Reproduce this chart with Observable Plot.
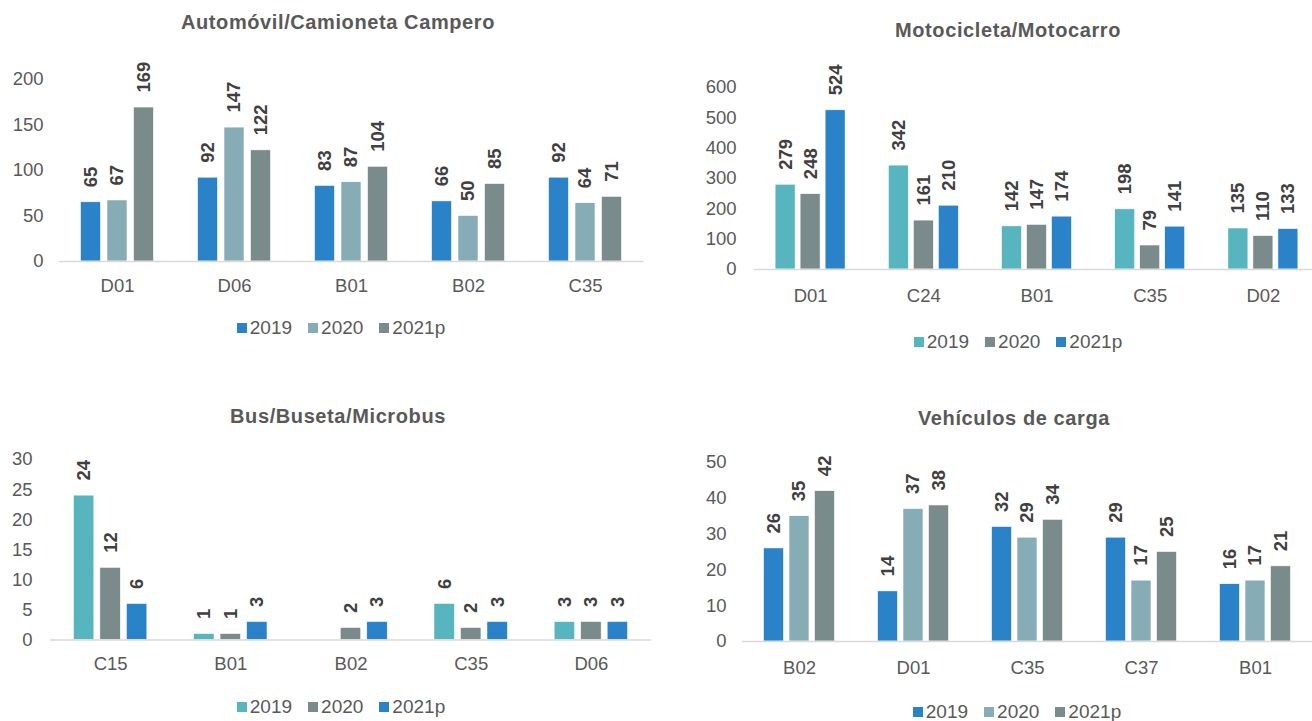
<!DOCTYPE html>
<html><head><meta charset="utf-8">
<script src="https://cdn.jsdelivr.net/npm/d3@7"></script>
<script src="https://cdn.jsdelivr.net/npm/@observablehq/plot@0.6"></script>
<style>
body{margin:0;background:#fff;}
#root{position:relative;width:1312px;height:721px;overflow:hidden;font-family:Arial,"Liberation Sans",sans-serif;background:#fff;}
.title{position:absolute;width:600px;text-align:center;font-weight:bold;font-size:20px;color:#595959;line-height:24px;letter-spacing:0.6px;}
.legend{position:absolute;width:600px;display:flex;justify-content:center;align-items:center;font-size:19px;color:#595959;line-height:16px;height:16px;}
.legend .item{display:flex;align-items:center;margin:0 8px;}
.legend .sw{width:10px;height:10px;margin-right:3px;}
.chart{position:absolute;}
</style></head><body><div id="root"></div>
<script>
const years = ["2019", "2020", "2021p"];

const autoTitle = "Automóvil/Camioneta Campero";
const autoCats = ["D01", "D06", "B01", "B02", "C35"];
const auto2019 = [65, 92, 83, 66, 92];
const auto2020 = [67, 147, 87, 50, 64];
const auto2021 = [169, 122, 104, 85, 71];
const autoTicks = [0, 50, 100, 150, 200];
const autoColors = ["#2A82C8", "#86ACB5", "#7A8B8C"];

const motoTitle = "Motocicleta/Motocarro";
const motoCats = ["D01", "C24", "B01", "C35", "D02"];
const moto2019 = [279, 342, 142, 198, 135];
const moto2020 = [248, 161, 147, 79, 110];
const moto2021 = [524, 210, 174, 141, 133];
const motoTicks = [0, 100, 200, 300, 400, 500, 600];
const motoColors = ["#57B5BF", "#7A8B8C", "#2A82C8"];

const busTitle = "Bus/Buseta/Microbus";
const busCats = ["C15", "B01", "B02", "C35", "D06"];
const bus2019 = [24, 1, null, 6, 3];
const bus2020 = [12, 1, 2, 2, 3];
const bus2021 = [6, 3, 3, 3, 3];
const busTicks = [0, 5, 10, 15, 20, 25, 30];
const busColors = ["#57B5BF", "#7A8B8C", "#2A82C8"];

const cargaTitle = "Vehículos de carga";
const cargaCats = ["B02", "D01", "C35", "C37", "B01"];
const carga2019 = [26, 14, 32, 29, 16];
const carga2020 = [35, 37, 29, 17, 17];
const carga2021 = [42, 38, 34, 25, 21];
const cargaTicks = [0, 10, 20, 30, 40, 50];
const cargaColors = ["#2A82C8", "#86ACB5", "#7A8B8C"];

const root = document.getElementById("root");
const FONT = "Arial, 'Liberation Sans', sans-serif";

function rowsOf(cats, s1, s2, s3) {
  const out = [];
  cats.forEach((c, i) => {
    [s1, s2, s3].forEach((s, j) => {
      if (s[i] != null) out.push({cat: c, year: years[j], value: s[i]});
    });
  });
  return out;
}

function panel(cfg) {
  const rows = rowsOf(cfg.cats, cfg.s1, cfg.s2, cfg.s3);
  const W = cfg.W, H = cfg.H;
  const mL = cfg.frameLeft - cfg.left;
  const mR = cfg.left + W - cfg.frameRight;
  const mT = cfg.yTop - cfg.top;
  const mB = cfg.top + H - cfg.y0;
  const plot = Plot.plot({
    width: W, height: H,
    marginLeft: mL, marginRight: mR, marginTop: mT, marginBottom: mB,
    style: {fontFamily: FONT, fontSize: "18.5px", color: "#595959", background: "transparent", overflow: "visible"},
    fx: {domain: cfg.cats, padding: 0, round: false, label: null},
    x: {domain: years, paddingInner: cfg.pi, paddingOuter: cfg.po, round: false, axis: null},
    y: {domain: [0, cfg.yMax], nice: false, label: null},
    color: {domain: years, range: cfg.colors},
    marks: [
      Plot.barY(rows, {fx: "cat", x: "year", y: "value", fill: "year", stroke: "#fff", strokeWidth: 0.6}),
      Plot.ruleY([0], {stroke: "#D9D9D9", strokeWidth: 1.5}),
      Plot.text(rows, {fx: "cat", x: "year", y: "value", text: d => String(d.value),
        rotate: -90, textAnchor: "start", dy: -15, fontWeight: "bold", fontSize: 18.5, fill: "#404040"}),
      Plot.axisY({ticks: cfg.ticks, tickSize: 0, tickPadding: cfg.tpY, label: null, fontSize: 18.5}),
      Plot.axisFx({anchor: "bottom", tickSize: 0, tickPadding: cfg.tpX, label: null, fontSize: 18.5})
    ]
  });
  plot.classList.add("chart");
  plot.style.left = cfg.left + "px";
  plot.style.top = cfg.top + "px";
  root.appendChild(plot);

  const t = document.createElement("div");
  t.className = "title";
  t.textContent = cfg.title;
  t.style.left = (cfg.titleX - 300) + "px";
  t.style.top = (cfg.titleY - 12) + "px";
  root.appendChild(t);

  const lg = document.createElement("div");
  lg.className = "legend";
  lg.style.left = (cfg.legX - 300) + "px";
  lg.style.top = (cfg.legY - 8) + "px";
  years.forEach((y, i) => {
    const it = document.createElement("div");
    it.className = "item";
    const sw = document.createElement("span");
    sw.className = "sw";
    sw.style.background = cfg.colors[i];
    const lab = document.createElement("span");
    lab.textContent = y;
    it.appendChild(sw); it.appendChild(lab);
    lg.appendChild(it);
  });
  root.appendChild(lg);
}

panel({title: autoTitle, cats: autoCats, s1: auto2019, s2: auto2020, s3: auto2021, ticks: autoTicks, colors: autoColors,
  left: 0, top: 40, W: 660, H: 270, frameLeft: 58.5, frameRight: 643.5, y0: 261, yTop: 78.8, yMax: 200,
  pi: 0.245, po: 0.83, tpY: 15.5, tpX: 17, titleX: 338, titleY: 22, legX: 341, legY: 328});

panel({title: motoTitle, cats: motoCats, s1: moto2019, s2: moto2020, s3: moto2021, ticks: motoTicks, colors: motoColors,
  left: 660, top: 40, W: 665, H: 280, frameLeft: 753.5, frameRight: 1319.5, y0: 269, yTop: 86.7, yMax: 600,
  pi: 0.2, po: 0.864, tpY: 17.5, tpX: 19, titleX: 1008, titleY: 30, legX: 1018, legY: 342});

panel({title: busTitle, cats: busCats, s1: bus2019, s2: bus2020, s3: bus2021, ticks: busTicks, colors: busColors,
  left: 0, top: 430, W: 660, H: 260, frameLeft: 50, frameRight: 651, y0: 639.5, yTop: 459, yMax: 30,
  pi: 0.226, po: 0.881, tpY: 18, tpX: 17, titleX: 338, titleY: 416, legX: 341, legY: 707});

panel({title: cargaTitle, cats: cargaCats, s1: carga2019, s2: carga2020, s3: carga2021, ticks: cargaTicks, colors: cargaColors,
  left: 660, top: 430, W: 652, H: 260, frameLeft: 742, frameRight: 1312, y0: 641, yTop: 462, yMax: 50,
  pi: 0.216, po: 0.843, tpY: 16, tpX: 19, titleX: 1014, titleY: 418, legX: 1017, legY: 712});
</script>
</body></html>
